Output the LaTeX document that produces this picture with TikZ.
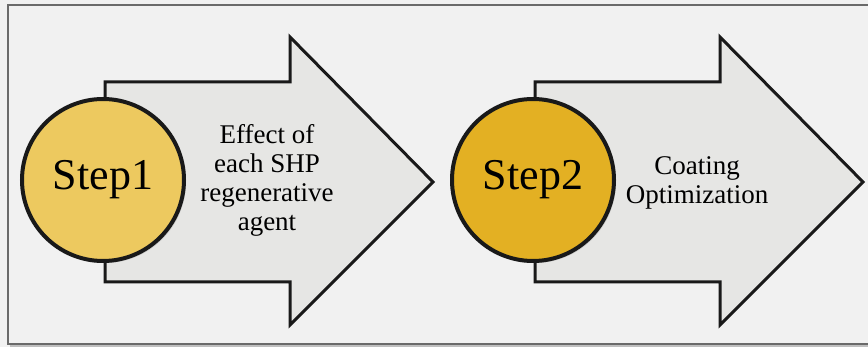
\documentclass[tikz,border=0pt]{standalone}
\usepackage{fontspec}
\setmainfont{Liberation Serif}
\usetikzlibrary{shadows}
\definecolor{bgc}{HTML}{F1F1F1}
\definecolor{framec}{HTML}{6A6A6A}
\definecolor{arrowc}{HTML}{E6E6E4}
\definecolor{goldA}{HTML}{EDC95F}
\definecolor{goldB}{HTML}{E3B023}
\tikzset{
  bigarrow/.style={draw=black!90, line width=3pt, fill=arrowc, line join=miter},
  stepcircle/.style={circle, draw=black!90, line width=4pt, minimum size=162pt, inner sep=0pt,
     font=\fontsize{44}{50}\selectfont,
     drop shadow={shadow xshift=2pt, shadow yshift=-2pt, opacity=0.25}},
  desc/.style={align=center, font=\fontsize{27}{29}\selectfont, inner sep=0pt}
}
\begin{document}
\begin{tikzpicture}[x=1pt,y=-1pt]
\useasboundingbox (0,0) rectangle (868,347);
\fill[bgc] (0,0) rectangle (868,347);
\fill[black!25] (10,345) rectangle (868,347.5);
\draw[framec, line width=2pt, fill=bgc] (8,5) rectangle (872,344);
% arrow 1
\draw[bigarrow] (105,82) -- (290,82) -- (290,37) -- (433,182) -- (290,325) -- (290,282) -- (105,282) -- cycle;
\node[stepcircle, fill=goldA] (s1) at (103,180) {Step1};
\node[desc] (t1) at (267,180) {Effect of\\each SHP\\regenerative\\agent};
% arrow 2
\draw[bigarrow] (535,82) -- (720,82) -- (720,37) -- (863,182) -- (720,325) -- (720,282) -- (535,282) -- cycle;
\node[stepcircle, fill=goldB] (s2) at (533,180) {Step2};
\node[desc] (t2) at (697,183) {Coating\\Optimization};
\end{tikzpicture}
\end{document}
